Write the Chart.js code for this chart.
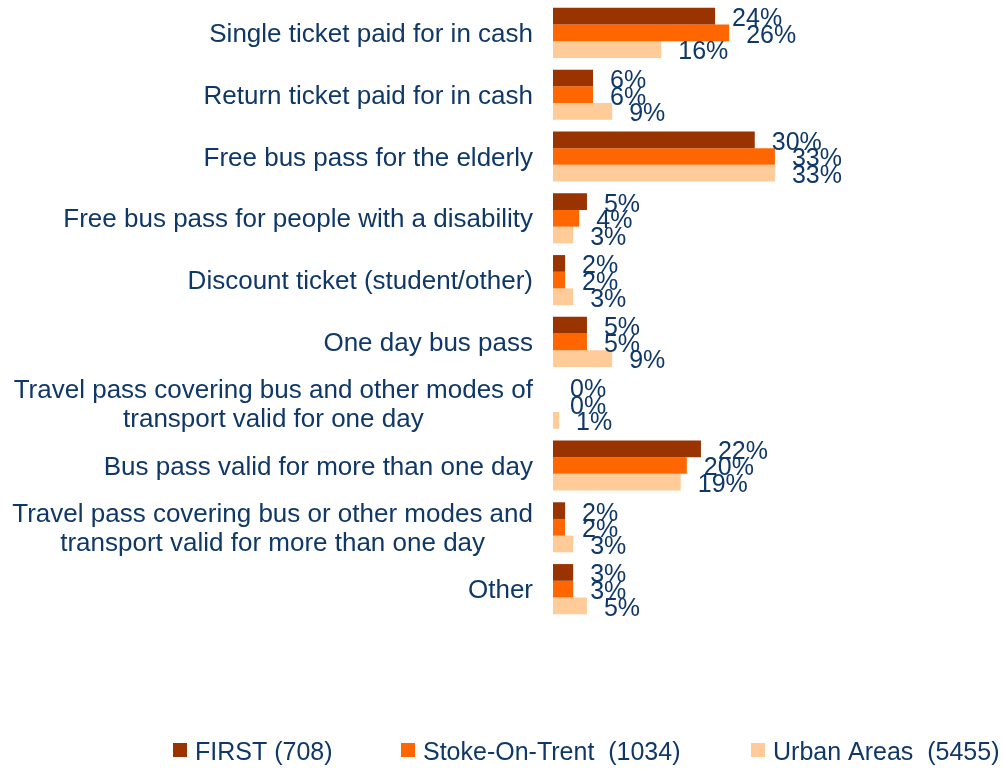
<!DOCTYPE html>
<html>
<head>
<meta charset="utf-8">
<script src="https://cdn.jsdelivr.net/npm/chart.js@4"></script>
<style>
  html, body { margin: 0; padding: 0; background: #ffffff; }
  #wrap { width: 1003px; height: 769px; }
</style>
</head>
<body>
<div id="wrap"><canvas id="c" width="1003" height="769"></canvas></div>
<script>
const categories = [
  "Single ticket paid for in cash",
  "Return ticket paid for in cash",
  "Free bus pass for the elderly",
  "Free bus pass for people with a disability",
  "Discount ticket (student/other)",
  "One day bus pass",
  ["Travel pass covering bus and other modes of", "transport valid for one day"],
  "Bus pass valid for more than one day",
  ["Travel pass covering bus or other modes and", "transport valid for more than one day"],
  "Other"
];
const seriesNames = ["FIRST (708)", "Stoke-On-Trent  (1034)", "Urban Areas  (5455)"];
const firstVals = [24.1, 5.95, 30.0, 5.05, 1.8, 5.05, 0, 22.0, 1.8, 3.0];
const stokeVals = [26.2, 5.95, 33.0, 3.9, 1.8, 5.05, 0, 19.9, 1.8, 3.0];
const urbanVals = [16.1, 8.8, 33.0, 3.0, 3.0, 8.8, 0.9, 19.0, 3.0, 5.05];
const seriesColors = ["#993300", "#FF6600", "#FFCC99"];

const TEXT_COLOR = "#0F3868";
const FONT = '"Liberation Sans", Arial, sans-serif';

const yLabelsPlugin = {
  id: "yLabels",
  afterDraw(chart) {
    const ctx = chart.ctx;
    const scale = chart.scales.y;
    ctx.save();
    ctx.font = "26px " + FONT;
    ctx.fillStyle = TEXT_COLOR;
    ctx.textAlign = "center";
    ctx.textBaseline = "middle";
    const rightEdge = 533;
    const lineH = 29;
    categories.forEach((lab, i) => {
      const lines = Array.isArray(lab) ? lab : [lab];
      const maxW = Math.max(...lines.map(l => ctx.measureText(l).width));
      const cx = rightEdge - maxW / 2;
      const cy = scale.getPixelForTick(i);
      lines.forEach((l, j) => {
        ctx.fillText(l, cx, cy + (j - (lines.length - 1) / 2) * lineH + 2);
      });
    });
    ctx.restore();
  }
};

const valueLabelsPlugin = {
  id: "valueLabels",
  afterDatasetsDraw(chart) {
    const ctx = chart.ctx;
    ctx.save();
    ctx.font = "25px " + FONT;
    ctx.fillStyle = TEXT_COLOR;
    ctx.textAlign = "left";
    ctx.textBaseline = "middle";
    chart.data.datasets.forEach((ds, di) => {
      const meta = chart.getDatasetMeta(di);
      meta.data.forEach((el, i) => {
        const v = ds.data[i];
        ctx.fillText(Math.round(v) + "%", el.x + 17, el.y + 3);
      });
    });
    ctx.restore();
  }
};

const legendPlugin = {
  id: "customLegend",
  afterDraw(chart) {
    const ctx = chart.ctx;
    const boxX = [173, 401, 751];
    ctx.save();
    ctx.font = "25px " + FONT;
    ctx.textAlign = "left";
    ctx.textBaseline = "alphabetic";
    chart.data.datasets.forEach((ds, i) => {
      ctx.fillStyle = ds.backgroundColor;
      ctx.fillRect(boxX[i], 743, 14, 14);
      ctx.fillStyle = TEXT_COLOR;
      ctx.fillText(ds.label, boxX[i] + 22, 760);
    });
    ctx.restore();
  }
};

new Chart(document.getElementById("c"), {
  type: "bar",
  data: {
    labels: categories,
    datasets: [
      { label: seriesNames[0], data: firstVals, backgroundColor: seriesColors[0] },
      { label: seriesNames[1], data: stokeVals, backgroundColor: seriesColors[1] },
      { label: seriesNames[2], data: urbanVals, backgroundColor: seriesColors[2] }
    ]
  },
  options: {
    indexAxis: "y",
    responsive: false,
    animation: false,
    devicePixelRatio: 1,
    layout: { padding: { left: 553, right: 181, top: 2, bottom: 149 } },
    datasets: { bar: { categoryPercentage: 0.81, barPercentage: 1.0, borderWidth: 0 } },
    scales: {
      x: { display: false, min: 0, max: 40 },
      y: { display: false }
    },
    plugins: {
      legend: { display: false },
      tooltip: { enabled: false }
    }
  },
  plugins: [yLabelsPlugin, valueLabelsPlugin, legendPlugin]
});
</script>
</body>
</html>
